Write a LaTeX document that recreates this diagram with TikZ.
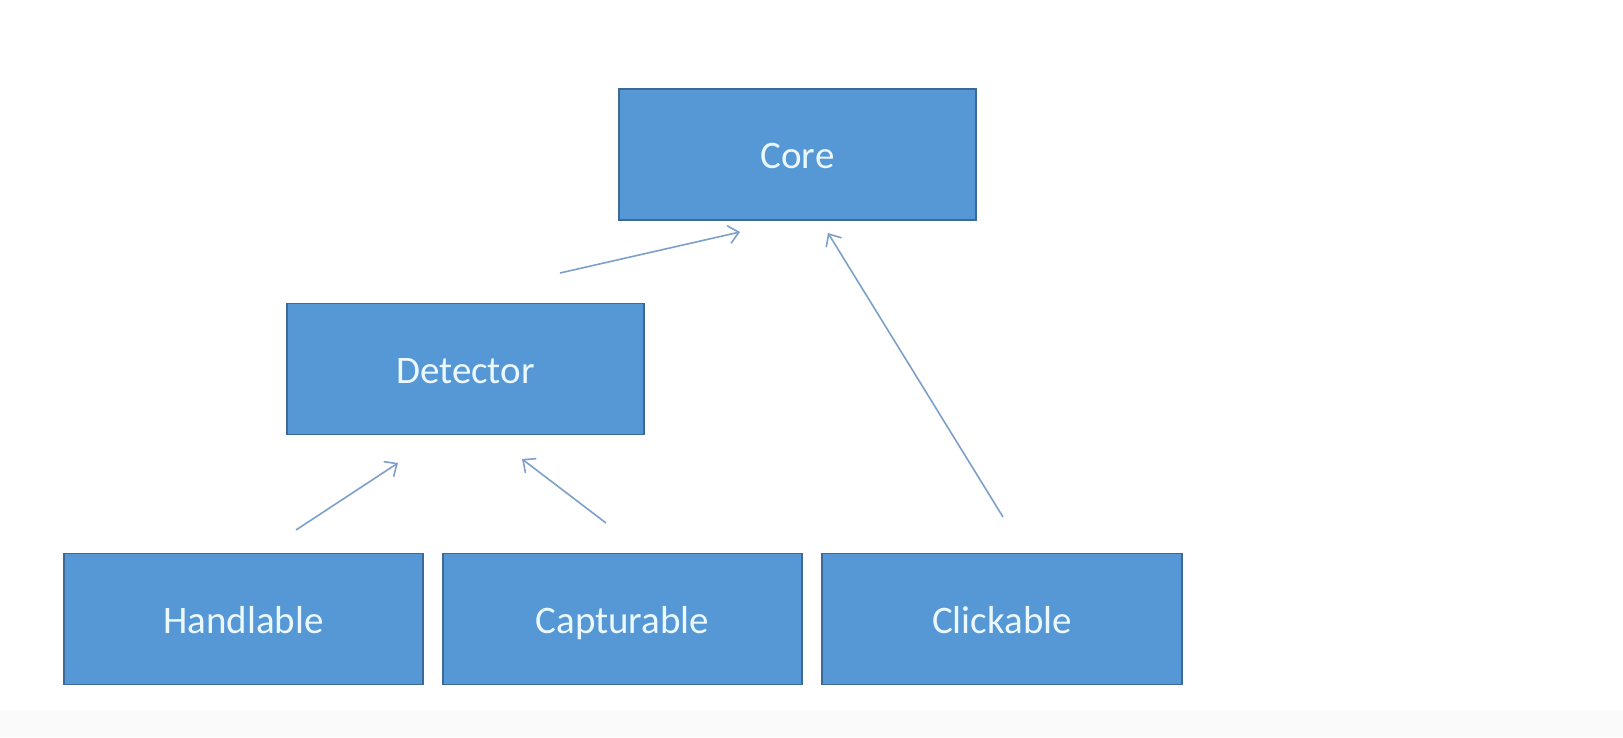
\documentclass[tikz,border=0pt]{standalone}
\usepackage{fontspec}
\setmainfont{Carlito}
\usetikzlibrary{arrows.meta}
\definecolor{boxfill}{RGB}{86,152,213}
\definecolor{boxline}{RGB}{60,105,150}
\definecolor{arrowc}{RGB}{125,160,200}
\begin{document}
\begin{tikzpicture}[x=1pt,y=-1pt,
  box/.style={draw=boxline,line width=1.5pt,fill=boxfill,text=white!92!cyan,
    minimum width=357pt,minimum height=131pt,inner sep=0pt,
    text height=35pt,text depth=7pt,
    font=\fontsize{39}{41}\selectfont},
  conn/.style={draw=arrowc,line width=1.6pt,-{Straight Barb[length=10pt,width=18pt,line width=1.6pt]}}]
\useasboundingbox (0,0) rectangle (1623,737);
\fill[black!2] (0,710) rectangle (1623,737);
\node[box] (core) at (797.5,154.5) {Core};
\node[box] (det) at (465.5,369) {Detector};
\node[box,minimum width=359pt] (hand) at (243.5,619) {Handlable};
\node[box,minimum width=359pt] (capt) at (622.5,619) {Capturable};
\node[box,minimum width=360pt] (click) at (1002,619) {Clickable};
\coordinate (a1s) at (560,273); \coordinate (a1e) at (740,232);
\coordinate (a2s) at (296,530); \coordinate (a2e) at (398,463);
\coordinate (a3s) at (606,523); \coordinate (a3e) at (522,459);
\coordinate (a4s) at (1003,517); \coordinate (a4e) at (828,233);
\draw[conn] (a1s) -- (a1e);
\draw[conn] (a2s) -- (a2e);
\draw[conn] (a3s) -- (a3e);
\draw[conn] (a4s) -- (a4e);
\end{tikzpicture}
\end{document}
